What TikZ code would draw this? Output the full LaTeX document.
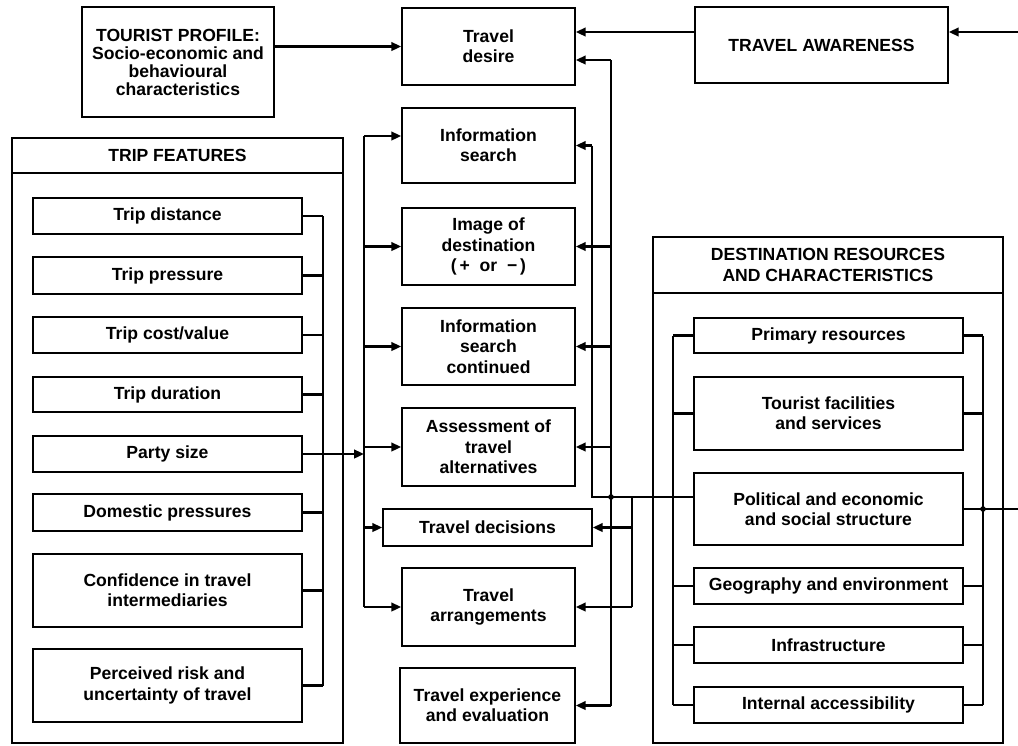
\documentclass[tikz,border=0pt]{standalone}
\usepackage{fontspec}
\setmainfont{Liberation Sans}
\usepackage{tikz}
\usetikzlibrary{arrows.meta}
\usepackage{xcolor}
\definecolor{ColInk}{RGB}{0,0,0}
\definecolor{ColPaper}{RGB}{255,255,255}
\newcommand{\BoxFont}{\bfseries\fontsize{12.5}{14.5}\selectfont}
\tikzset{BoxSize/.style 2 args={minimum width=#1*0.025cm,minimum height=#2*0.025cm}}
\tikzstyle{BoxItem}=[draw=ColInk,line width=1.1pt,inner sep=0pt,align=center,font=\BoxFont,text=ColInk]
\tikzstyle{BoxFrame}=[draw=ColInk,line width=0.8pt,inner sep=0pt,align=center,font=\BoxFont,text=ColInk]
\tikzstyle{Wire}=[draw=ColInk,line width=2pt]
\tikzstyle{WireArrow}=[Wire,-{Triangle[length=7pt,width=6pt]}]
\tikzstyle{Joint}=[fill=ColInk]

\begin{document}
\begin{tikzpicture}[x=0.025cm,y=-0.025cm]
        \useasboundingbox[fill=ColPaper](0,0)rectangle(1018,745);
        \coordinate(busTrip)at(323,0);
        \coordinate(busMid)at(364,0);
        \coordinate(busA)at(592,0);
        \coordinate(busB)at(611,0);
        \coordinate(busC)at(632,0);
        \coordinate(busDL)at(673,0);
        \coordinate(busDR)at(983,0);
        \coordinate(edgeA)at(1018,32);
        \coordinate(edgeB)at(1018,509);
        \node[BoxItem,BoxSize={192}{110},font=\bfseries\fontsize{12.5}{12.8}\selectfont](profile)at(178,62){TOURIST PROFILE:\\Socio-economic and\\behavioural\\characteristics};
        \node[BoxItem,BoxSize={253}{76}](awareness)at(821.5,45){TRAVEL AWARENESS};
        \node[BoxItem,BoxSize={173}{77}](desire)at(488.5,46.5){Travel\\desire};
        \node[BoxItem,BoxSize={173}{75}](search)at(488.5,145.5){Information\\search};
        \node[BoxItem,BoxSize={173}{77}](image)at(488.5,246.5){Image of\\destination\\(\,+\ \ or\ \ −\,)};
        \node[BoxItem,BoxSize={173}{77}](searchcont)at(488.5,346.5){Information\\search\\continued};
        \node[BoxItem,BoxSize={173}{78}](assess)at(488.5,447){Assessment of\\travel\\alternatives};
        \node[BoxItem,BoxSize={209}{37}](decide)at(487.5,527.5){Travel decisions};
        \node[BoxItem,BoxSize={173}{78}](arrange)at(488.5,607){Travel\\arrangements};
        \node[BoxItem,BoxSize={175}{75}](experience)at(487.5,705.5){Travel experience\\and evaluation};
        \node[BoxFrame,BoxSize={331}{605}](tripframe)at(177.5,440.5){};
        \node[BoxFrame,BoxSize={331}{35}](triphead)at(177.5,155.5){TRIP FEATURES};
        \node[BoxItem,BoxSize={269}{36}](dist)at(167.5,216){Trip distance};
        \node[BoxItem,BoxSize={269}{37}](press)at(167.5,275.5){Trip pressure};
        \node[BoxItem,BoxSize={269}{36}](cost)at(167.5,335){Trip cost/value};
        \node[BoxItem,BoxSize={269}{35}](dur)at(167.5,394.5){Trip duration};
        \node[BoxItem,BoxSize={269}{36}](party)at(167.5,454){Party size};
        \node[BoxItem,BoxSize={269}{37}](domestic)at(167.5,512.5){Domestic pressures};
        \node[BoxItem,BoxSize={269}{73}](confid)at(167.5,590.5){Confidence in travel\\intermediaries};
        \node[BoxItem,BoxSize={269}{73}](risk)at(167.5,685.5){Perceived risk and\\uncertainty of travel};
        \node[BoxFrame,BoxSize={350}{506}](destframe)at(828,490){};
        \node[BoxFrame,BoxSize={350}{56}](desthead)at(828,265){DESTINATION RESOURCES\\AND CHARACTERISTICS};
        \node[BoxItem,BoxSize={269}{35}](primary)at(828.5,335.5){Primary resources};
        \node[BoxItem,BoxSize={269}{73}](facil)at(828.5,413.5){Tourist facilities\\and services};
        \node[BoxItem,BoxSize={269}{72}](polit)at(828.5,509){Political and economic\\and social structure};
        \node[BoxItem,BoxSize={269}{36}](geog)at(828.5,586){Geography and environment};
        \node[BoxItem,BoxSize={269}{36}](infra)at(828.5,645){Infrastructure};
        \node[BoxItem,BoxSize={269}{36}](access)at(828.5,705){Internal accessibility};
        \draw[WireArrow](profile.east|-desire.west)--(desire.west);
        \draw[WireArrow](awareness.west|-edgeA)--(desire.east|-edgeA);
        \draw[WireArrow](edgeA)--(awareness.east|-edgeA);
        \draw[Wire](busTrip|-dist.east)--(busTrip|-risk.east);
        \draw[Wire](dist.east)--(dist.east-|busTrip);
        \draw[Wire](press.east)--(press.east-|busTrip);
        \draw[Wire](cost.east)--(cost.east-|busTrip);
        \draw[Wire](dur.east)--(dur.east-|busTrip);
        \draw[Wire](domestic.east)--(domestic.east-|busTrip);
        \draw[Wire](confid.east)--(confid.east-|busTrip);
        \draw[Wire](risk.east)--(risk.east-|busTrip);
        \draw[WireArrow](party.east)--(party.east-|busMid);
        \draw[Wire](busMid|-0,136)--(busMid|-arrange.west);
        \draw[WireArrow](busMid|-0,136)--(search.west|-0,136);
        \draw[WireArrow](busMid|-image.west)--(image.west);
        \draw[WireArrow](busMid|-searchcont.west)--(searchcont.west);
        \draw[WireArrow](busMid|-assess.west)--(assess.west);
        \draw[WireArrow](busMid|-decide.west)--(decide.west);
        \draw[WireArrow](busMid|-arrange.west)--(arrange.west);
        \draw[Wire](busB|-0,60)--(busB|-experience.east);
        \draw[WireArrow](busB|-0,60)--(desire.east|-0,60);
        \draw[WireArrow](busB|-image.east)--(image.east);
        \draw[WireArrow](busB|-searchcont.east)--(searchcont.east);
        \draw[WireArrow](busB|-assess.east)--(assess.east);
        \draw[WireArrow](busB|-experience.east)--(experience.east);
        \draw[Wire](busA|-search.east)--(busA|-0,497)--(polit.west|-0,497);
        \draw[WireArrow](busA|-search.east)--(search.east);
        \draw[Wire](busC|-0,497)--(busC|-arrange.east);
        \draw[WireArrow](busC|-decide.east)--(decide.east);
        \draw[WireArrow](busC|-arrange.east)--(arrange.east);
        \fill[Joint](busB|-0,497)circle[radius=2pt];
        \draw[Wire](busDL|-primary.west)--(busDL|-access.west);
        \draw[Wire](primary.west)--(primary.west-|busDL);
        \draw[Wire](facil.west)--(facil.west-|busDL);
        \draw[Wire](geog.west)--(geog.west-|busDL);
        \draw[Wire](infra.west)--(infra.west-|busDL);
        \draw[Wire](access.west)--(access.west-|busDL);
        \draw[Wire](busDR|-primary.east)--(busDR|-access.east);
        \draw[Wire](primary.east)--(primary.east-|busDR);
        \draw[Wire](facil.east)--(facil.east-|busDR);
        \draw[Wire](geog.east)--(geog.east-|busDR);
        \draw[Wire](infra.east)--(infra.east-|busDR);
        \draw[Wire](access.east)--(access.east-|busDR);
        \draw[Wire](polit.east)--(edgeB);
        \fill[Joint](busDR|-polit.east)circle[radius=2pt];
    \end{tikzpicture}
\end{document}
